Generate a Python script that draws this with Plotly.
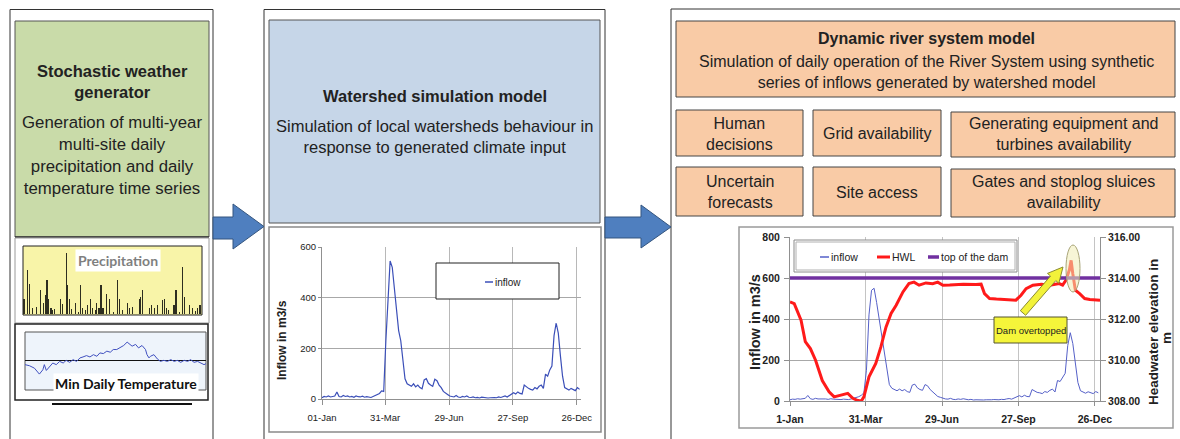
import numpy as np
import plotly.graph_objects as go

# ---------------- data ----------------
year_days = 365
month_tick_days = [0, 89, 179, 269, 359]
ws_tick_labels = ["01-Jan", "31-Mar", "29-Jun", "27-Sep", "26-Dec"]
rv_tick_labels = ["1-Jan", "31-Mar", "29-Jun", "27-Sep", "26-Dec"]

# Watershed model inflow (m3/s), every 3 days
ws_days = list(range(0, 366, 3))
ws_inflow = [
    5, 10, 8, 12, 8, 10, 12, 28, 10, 8,
    14, 10, 12, 8, 10, 7, 12, 9, 8, 11,
    7, 9, 8, 6, 10, 14, 18, 22, 32, 30,
    230, 400, 545, 520, 440, 360, 270, 230, 150, 80,
    60, 55, 50, 60, 48, 55, 45, 40, 75, 80,
    62, 55, 50, 78, 72, 55, 45, 30, 22, 18,
    12, 10, 8, 14, 8, 6, 10, 8, 12, 7,
    6, 8, 5, 6, 4, 7, 5, 6, 4, 5,
    7, 6, 5, 8, 6, 10, 12, 8, 14, 22,
    25, 20, 28, 22, 20, 55, 48, 42, 38, 35,
    45, 40, 50, 55, 42, 98, 90, 115, 130, 250,
    300, 260, 170, 90, 45, 40, 35, 42, 38, 33,
    45, 38,
]

# River system model inflow (m3/s), every 3 days
rv_days = list(range(0, 366, 3))
rv_inflow = [
    6, 9, 8, 11, 9, 10, 13, 27, 11, 8,
    13, 10, 11, 9, 10, 8, 11, 9, 8, 10,
    7, 9, 8, 7, 10, 13, 17, 21, 28, 40,
    150, 420, 540, 550, 480, 400, 300, 220, 140, 80,
    62, 56, 50, 58, 50, 56, 46, 42, 78, 82,
    64, 56, 52, 80, 74, 56, 45, 32, 22, 18,
    12, 10, 9, 13, 8, 7, 10, 8, 11, 7,
    6, 8, 5, 6, 5, 7, 5, 6, 5, 6,
    7, 6, 6, 8, 7, 10, 12, 9, 15, 22,
    26, 20, 28, 22, 21, 56, 48, 42, 40, 36,
    46, 42, 52, 58, 44, 100, 95, 118, 135, 270,
    333, 280, 180, 90, 50, 42, 38, 45, 40, 36,
    46, 40,
]

# Headwater level (m)
hwl_days = [0, 5, 13, 18, 24, 30, 38, 46, 52, 60,
            68, 74, 80, 84, 87, 93, 101, 107, 113, 119,
            125, 133, 140, 146, 152, 160, 168, 174, 180, 188,
            204, 219, 225, 229, 235, 243, 255, 266, 272, 278,
            286, 296, 306, 317, 321, 325, 329, 331, 333, 336,
            341, 347, 353, 361, 365]
hwl_elev = [312.83, 312.75, 311.94, 310.9, 310.56, 310.0, 309.0, 308.45, 308.2, 308.29,
            308.37, 308.13, 308.02, 308.0, 308.2, 309.18, 309.83, 310.64, 311.6, 312.27,
            312.67, 313.32, 313.73, 313.8, 313.65, 313.76, 313.72, 313.8, 313.65, 313.66,
            313.7, 313.68, 313.7, 313.24, 313.0, 312.97, 312.95, 312.92, 313.16, 313.48,
            313.65, 313.7, 313.65, 313.73, 313.65, 313.9, 314.4, 314.86, 314.2, 313.4,
            313.24, 313.0, 312.95, 312.92, 312.92]
dam_top_elev = 314.0

# Precipitation mini chart
prec_days = [2, 10, 13, 19, 27, 36, 41, 45, 49, 51,
             57, 60, 65, 77, 81, 88, 91, 94, 99, 107,
             113, 118, 122, 128, 131, 138, 141, 147, 150, 155,
             159, 163, 170, 176, 185, 193, 197, 203, 213, 218,
             223, 237, 239, 243, 258, 262, 268, 275, 284, 289,
             293, 297, 308, 312, 319, 326, 329, 339, 345, 351,
             355, 361]
prec_mm = [9.4, 26.8, 18.4, 3.4, 4.4, 14.4, 6.4, 11.4, 20.4, 9.4,
           3.4, 2.4, 2.8, 9.4, 6.0, 37.0, 17.4, 9.4, 2.8, 6.4,
           1.4, 17.4, 3.4, 2.4, 5.4, 9.4, 3.4, 2.4, 6.4, 3.4,
           17.8, 3.4, 12.4, 9.4, 1.4, 20.4, 9.4, 2.4, 6.4, 3.4,
           4.4, 9.4, 10.4, 14.4, 3.4, 5.4, 3.4, 5.4, 8.4, 9.4,
           3.4, 2.4, 5.4, 14.4, 1.4, 28.4, 10.4, 5.4, 3.4, 2.0,
           3.4, 5.4]

# Min daily temperature mini chart
temp_days = [0, 9, 19, 29, 36, 39, 43, 50, 56, 63,
             70, 77, 83, 90, 97, 104, 111, 117, 124, 131,
             138, 145, 151, 158, 165, 172, 178, 185, 192, 199,
             206, 209, 216, 223, 229, 236, 243, 246, 250, 253,
             260, 267, 273, 280, 287, 294, 301, 307, 314, 321,
             328, 334, 341, 348, 355, 361, 365]
temp_c = [-1.6, -2.0, -2.9, -5.1, -3.5, -1.6, -3.75, -2.25, -1.0, -1.6,
          -0.4, -1.0, 0.0, -0.75, 0.25, -0.4, 0.9, 1.25, 1.75, 1.25,
          2.1, 1.5, 2.75, 2.5, 3.4, 3.0, 4.0, 4.0, 4.6, 5.5,
          6.75, 6.25, 5.25, 5.9, 4.6, 5.5, 4.0, 2.1, 0.9, 1.5,
          2.1, 0.5, -0.4, 0.0, -0.4, 0.25, -0.4, 0.0, -0.75, 0.0,
          -0.4, 0.25, -0.75, -0.4, -1.0, -1.6, -1.25]

# ---------------- helpers ----------------
W, H = 1180, 439
def X(px): return px / W
def Y(py): return 1 - py / H

ARIAL = "Liberation Sans, Arial, sans-serif"
NARROW = "Liberation Sans Narrow, Arial Narrow, Liberation Sans, sans-serif"
CAL = "Lato, Carlito, Calibri, sans-serif"

shapes = []
annotations = []

def rect(x0, y0, x1, y1, fill="rgba(0,0,0,0)", line="#333", width=1, layer="below"):
    shapes.append(dict(type="rect", xref="paper", yref="paper",
                       x0=X(x0), x1=X(x1), y0=Y(y1), y1=Y(y0),
                       fillcolor=fill, line=dict(color=line, width=width), layer=layer))

def seg(x0, y0, x1, y1, color, width, layer="above"):
    shapes.append(dict(type="line", xref="paper", yref="paper",
                       x0=X(x0), x1=X(x1), y0=Y(y0), y1=Y(y1),
                       line=dict(color=color, width=width), layer=layer))

def hline(x0, x1, y, color, width, layer="above"):
    seg(x0, y, x1, y, color, width, layer)

def open_box(x0, y0, x1, color="#333", width=1, right=True):
    # panel outline running off the bottom of the canvas
    seg(x0, H, x0, y0, color, width, "below")
    seg(x0, y0, min(x1, W), y0, color, width, "below")
    if right:
        seg(x1, y0, x1, H, color, width, "below")

def poly(pts, fill, line, width=1, layer="above"):
    d = "M " + " L ".join(f"{X(px):.5f},{Y(py):.5f}" for px, py in pts) + " Z"
    shapes.append(dict(type="path", xref="paper", yref="paper", path=d,
                       fillcolor=fill, line=dict(color=line, width=width), layer=layer))

def text(x, y, t, size, bold=False, color="#222", family=ARIAL, xanchor="center", **kw):
    annotations.append(dict(x=X(x), y=Y(y), xref="paper", yref="paper", text=t,
                            showarrow=False, xanchor=xanchor, yanchor="middle",
                            font=dict(family=family, size=size, color=color,
                                      weight="bold" if bold else "normal"), **kw))

# ---------------- panel 1 : weather generator ----------------
open_box(10, 9.5, 213)
rect(15, 21, 209, 237, fill="#c9dba9", line="#555", width=1)
hline(15, 209, 237, "#333", 1.5, layer="below")
rect(15, 238, 209, 323, line="#9a9a9a", width=1)
rect(23, 246, 202, 315, fill="#f8f4a8", line="#222", width=1)
rect(15, 324, 208, 400, line="#222", width=1.5)
rect(25, 332, 206, 390, fill="#eef4fb", line="#555", width=1)
hline(52, 192, 404, "#111", 2)
text(112, 81.5, "Stochastic weather<br>generator", 16.5, bold=True)
text(112, 155, "Generation of multi-year<br>multi-site daily<br>precipitation and daily<br>temperature time series", 16.8)
text(118, 260, "Precipitation", 14, bold=True, color="#7f7f7f", family=CAL, bgcolor="white", borderpad=2)
text(126, 383, "Min Daily Temperature", 14, bold=True, color="#111", family=CAL, bgcolor="white", borderpad=1)

# arrow 1
poly([(213, 217), (233, 217), (233, 204), (264, 226.5), (233, 249), (233, 239), (213, 239)],
     "#4f7fbf", "#34557f")

# ---------------- panel 2 : watershed model ----------------
open_box(264, 9.5, 605)
rect(269, 20, 600, 223, fill="#c6d6e8", line="#555", width=1)
rect(269, 227, 601, 432, line="#8a8a8a", width=1.5)
text(434.5, 96, "Watershed simulation model", 16.5, bold=True)
text(434.5, 136, "Simulation of local watersheds behaviour in<br>response to generated climate input", 16.5)
text(282, 340, "Inflow in m3/s", 12, bold=True, textangle=-90)
rect(436, 263, 559, 299, fill="white", line="#222", width=1, layer="above")
hline(485, 493, 282, "#3b4fb8", 1.5)
text(493, 282, "inflow", 10, family=NARROW, xanchor="left")

# arrow 2
poly([(605, 217), (641, 217), (641, 205), (671, 227), (641, 248), (641, 238), (605, 238)],
     "#4f7fbf", "#34557f")

# ---------------- panel 3 : river system model ----------------
open_box(671, 9, W, right=False)
PEACH = "#f9cba6"
rect(676, 21, 1175, 97, fill=PEACH, line="#444", width=1)
text(926, 38, "Dynamic river system model", 16, bold=True)
text(926, 71.5, "Simulation of daily operation of the River System using synthetic<br>series of inflows generated by watershed model", 16)
box_cols = [(676, 803), (813, 941), (951, 1175)]
box_rows = [(110, 156), (167, 216)]
box_texts = [["Human<br>decisions", "Grid availability", "Generating equipment and<br>turbines availability"],
             ["Uncertain<br>forecasts", "Site access", "Gates and stoplog sluices<br>availability"]]
for r, (ry0, ry1) in enumerate(box_rows):
    for c, (cx0, cx1) in enumerate(box_cols):
        rect(cx0, ry0 + (2 if c == 2 else 0), cx1, ry1 + (1 if c == 2 else 0), fill=PEACH, line="#444", width=1)
        text((cx0 + cx1) / 2, (ry0 + ry1) / 2 + 1, box_texts[r][c], 16)

rect(739, 227, 1173, 428, line="#9a9a9a", width=1.5)
text(755, 322, "Inflow in m3/s", 14.5, bold=True, textangle=-90)
text(1153, 332, "Headwater elevation in", 13.5, bold=True, textangle=-90)
text(1166, 338, "m", 13.5, bold=True, textangle=-90)

# legend chart 3
rect(794, 240, 1017, 272, fill="white", line="#8a8a8a", width=1, layer="above")
rect(796, 242, 1015, 270, fill="white", line="#b0b0b0", width=1, layer="above")
hline(820, 829, 257, "#5560c8", 1.5)
text(829, 257, "inflow", 10.5, family=NARROW, xanchor="left")
hline(877, 890, 257, "#ff1a1a", 3)
text(890, 257, "HWL", 10.5, family=NARROW, xanchor="left")
hline(928, 939, 257, "#7030a0", 3.5)
text(939, 257, "top of the dam", 10.5, family=NARROW, xanchor="left")

# annotation: ellipse, arrow, callout
shapes.append(dict(type="circle", xref="paper", yref="paper",
                   x0=X(1066), x1=X(1080), y0=Y(292), y1=Y(245),
                   fillcolor="rgba(240,236,180,0.55)", line=dict(color="#a8a478", width=1), layer="above"))
tail = np.array([1023.0, 313.0]); tip = np.array([1063.0, 267.0])
u = (tip - tail) / np.linalg.norm(tip - tail); n = np.array([-u[1], u[0]])
base = tip - 15 * u
pts = [tail + 3.5 * n, base + 3.5 * n, base + 7.5 * n, tip, base - 7.5 * n, base - 3.5 * n, tail - 3.5 * n]
poly([tuple(p) for p in pts], "#f2f23a", "#8a8a30")
rect(994, 317, 1067, 343, fill="#f5f53a", line="#555530", width=1, layer="above")
text(1030.5, 330, "Dam overtopped", 9.5, family=NARROW)

# ---------------- traces ----------------
fig = go.Figure()
fig.add_trace(go.Scatter(x=ws_days, y=ws_inflow, xaxis="x", yaxis="y", mode="lines",
                         line=dict(color="#3b4fb8", width=1.2), hoverinfo="skip"))
fig.add_trace(go.Scatter(x=rv_days, y=rv_inflow, xaxis="x2", yaxis="y2", mode="lines",
                         line=dict(color="#5560c8", width=1), hoverinfo="skip"))
fig.add_trace(go.Scatter(x=hwl_days, y=hwl_elev, xaxis="x2", yaxis="y3", mode="lines",
                         line=dict(color="#ff1a1a", width=3), hoverinfo="skip"))
fig.add_trace(go.Scatter(x=[0, year_days], y=[dam_top_elev, dam_top_elev], xaxis="x2", yaxis="y3",
                         mode="lines", line=dict(color="#7030a0", width=3.5), hoverinfo="skip"))
fig.add_trace(go.Bar(x=prec_days, y=prec_mm, xaxis="x4", yaxis="y4", width=2.3,
                     marker=dict(color="#2e2e20", line=dict(width=0)), hoverinfo="skip"))
fig.add_trace(go.Scatter(x=temp_days, y=temp_c, xaxis="x5", yaxis="y5", mode="lines",
                         line=dict(color="#4050c0", width=1), hoverinfo="skip"))

tick_font = dict(family=NARROW, size=9.5, color="#222")
tick_font_b = dict(family=NARROW, size=10.5, color="#222", weight="bold")

fig.update_layout(
    width=W, height=H, margin=dict(l=0, r=0, t=0, b=0, pad=0, autoexpand=False),
    paper_bgcolor="white", plot_bgcolor="rgba(0,0,0,0)", showlegend=False,
    shapes=shapes, annotations=annotations,
    xaxis=dict(domain=[X(322), X(581)], range=[0, year_days], anchor="y",
               tickvals=month_tick_days, ticktext=ws_tick_labels, tickfont=tick_font,
               showgrid=True, gridcolor="#b8b8b8", showline=True, linecolor="#909090",
               ticks="outside", ticklen=5, tickcolor="#909090", zeroline=False, ticklabelstandoff=5),
    yaxis=dict(domain=[Y(399), Y(247)], range=[0, 600], anchor="x",
               tickvals=[0, 200, 400, 600], tickfont=tick_font,
               showgrid=True, gridcolor="#a8a8a8", showline=True, linecolor="#909090",
               ticks="outside", ticklen=3, tickcolor="#909090", zeroline=False),
    xaxis2=dict(domain=[X(790), X(1100)], range=[0, year_days], anchor="y2",
                tickvals=month_tick_days, ticktext=rv_tick_labels, tickfont=tick_font_b,
                showgrid=True, gridcolor="#c4c4c4", showline=True, linecolor="#909090",
                ticks="outside", ticklen=4, tickcolor="#909090", zeroline=False, ticklabelstandoff=4),
    yaxis2=dict(domain=[Y(401), Y(237)], range=[0, 800], anchor="x2",
                tickvals=[0, 200, 400, 600, 800], tickfont=tick_font_b,
                showgrid=True, gridcolor="#a8a8a8", showline=True, linecolor="#909090",
                ticks="outside", ticklen=5, tickcolor="#909090", zeroline=False, ticklabelstandoff=2),
    yaxis3=dict(overlaying="y2", side="right", anchor="x2", range=[308, 316],
                tickvals=[308, 310, 312, 314, 316], tickformat=".2f", tickfont=tick_font_b,
                showgrid=False, showline=True, linecolor="#909090",
                ticks="outside", ticklen=5, tickcolor="#909090", zeroline=False),
    xaxis4=dict(domain=[X(23), X(202)], range=[0, year_days], anchor="y4", visible=False),
    yaxis4=dict(domain=[Y(314), Y(246)], range=[0, 41.4], anchor="x4", visible=False),
    xaxis5=dict(domain=[X(25), X(206)], range=[0, year_days], anchor="y5", visible=False),
    yaxis5=dict(domain=[Y(390), Y(332)], range=[-11, 10.5], anchor="x5",
                showgrid=False, showticklabels=False, ticks="", showline=False,
                zeroline=True, zerolinecolor="#111", zerolinewidth=1.2),
    bargap=0,
)

fig.write_html("out.html", config={"displayModeBar": False, "staticPlot": True},
               post_script="document.body.style.margin='0px';document.body.style.padding='0px';"
                           "document.body.style.overflow='hidden';")
